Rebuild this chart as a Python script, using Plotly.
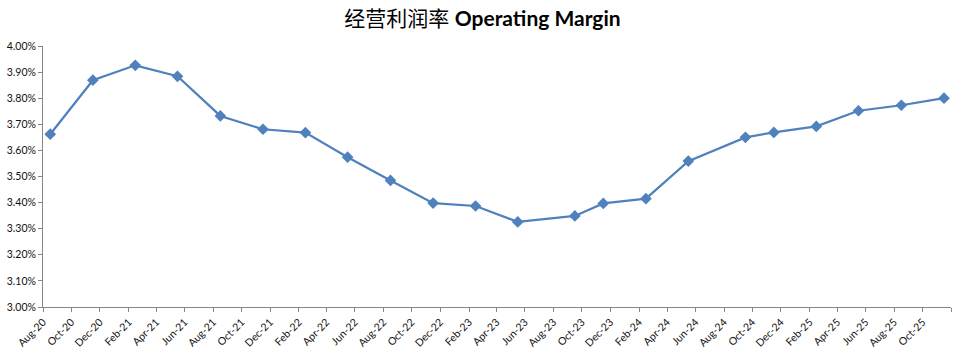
import plotly.graph_objects as go

# ---- data ----
dates = ["2020-08-01", "2020-11-01", "2021-02-01", "2021-05-01", "2021-08-01",
         "2021-11-01", "2022-02-01", "2022-05-01", "2022-08-01", "2022-11-01",
         "2023-02-01", "2023-05-01", "2023-09-01", "2023-11-01", "2024-02-01",
         "2024-05-01", "2024-09-01", "2024-11-01", "2025-02-01", "2025-05-01",
         "2025-08-01", "2025-11-01"]
margin_pct = [3.662, 3.869, 3.926, 3.884, 3.732, 3.681, 3.668, 3.574, 3.485, 3.398,
              3.387, 3.326, 3.349, 3.397, 3.415, 3.559, 3.650, 3.669, 3.692, 3.752,
              3.773, 3.800]
margin = [v / 100 for v in margin_pct]

tick_dates = ["2020-08-01", "2020-10-01", "2020-12-01", "2021-02-01", "2021-04-01",
              "2021-06-01", "2021-08-01", "2021-10-01", "2021-12-01", "2022-02-01",
              "2022-04-01", "2022-06-01", "2022-08-01", "2022-10-01", "2022-12-01",
              "2023-02-01", "2023-04-01", "2023-06-01", "2023-08-01", "2023-10-01",
              "2023-12-01", "2024-02-01", "2024-04-01", "2024-06-01", "2024-08-01",
              "2024-10-01", "2024-12-01", "2025-02-01", "2025-04-01", "2025-06-01",
              "2025-08-01", "2025-10-01", "2025-12-01"]
tick_labels = ["Aug-20", "Oct-20", "Dec-20", "Feb-21", "Apr-21", "Jun-21", "Aug-21",
               "Oct-21", "Dec-21", "Feb-22", "Apr-22", "Jun-22", "Aug-22", "Oct-22",
               "Dec-22", "Feb-23", "Apr-23", "Jun-23", "Aug-23", "Oct-23", "Dec-23",
               "Feb-24", "Apr-24", "Jun-24", "Aug-24", "Oct-24", "Dec-24", "Feb-25",
               "Apr-25", "Jun-25", "Aug-25", "Oct-25", ""]
y_ticks = [0.030, 0.031, 0.032, 0.033, 0.034, 0.035, 0.036, 0.037, 0.038, 0.039, 0.040]

title_cn = "经营利润率"
title_en = "Operating Margin"

LINE = "#4F81BD"
AXIS = "#868686"
FONT = "Lato, 'Noto Sans', sans-serif"

fig = go.Figure()
fig.add_trace(go.Scatter(
    x=dates, y=margin, mode="lines+markers",
    xperiod="M1", xperiodalignment="middle",
    line=dict(color=LINE, width=2.25),
    marker=dict(symbol="diamond", size=9, color=LINE),
    showlegend=False,
))

fig.update_layout(
    width=965, height=351,
    margin=dict(l=43, r=14, t=46, b=44),
    paper_bgcolor="white", plot_bgcolor="white",
    title=dict(
        text=f"<span style='font-family:\"Noto Sans CJK SC\"; font-size:21px'>{title_cn}</span> <b>{title_en}</b>",
        x=0.5, xanchor="center", y=1 - 19 / 351, yanchor="middle",
        font=dict(family=FONT, size=21, color="#000000"),
    ),
    font=dict(family=FONT, size=10.5, color="#111111"),
)
fig.update_xaxes(
    type="date", range=["2020-08-01", "2025-12-01"],
    tickmode="array", tickvals=tick_dates, ticktext=tick_labels,
    tickangle=-45, ticks="outside", ticklen=4, tickcolor=AXIS,
    showline=True, linecolor=AXIS, linewidth=1,
    showgrid=False, zeroline=False, automargin=False,
    tickfont=dict(family=FONT, size=10.5, color="#111111"),
)
fig.update_yaxes(
    range=[0.030, 0.040], tickmode="array", tickvals=y_ticks, tickformat=".2%",
    ticks="outside", ticklen=4, tickcolor=AXIS,
    showline=True, linecolor=AXIS, linewidth=1,
    showgrid=False, zeroline=False, automargin=False,
    tickfont=dict(family=FONT, size=10.5, color="#111111"),
)

fig.write_html("out.html")
